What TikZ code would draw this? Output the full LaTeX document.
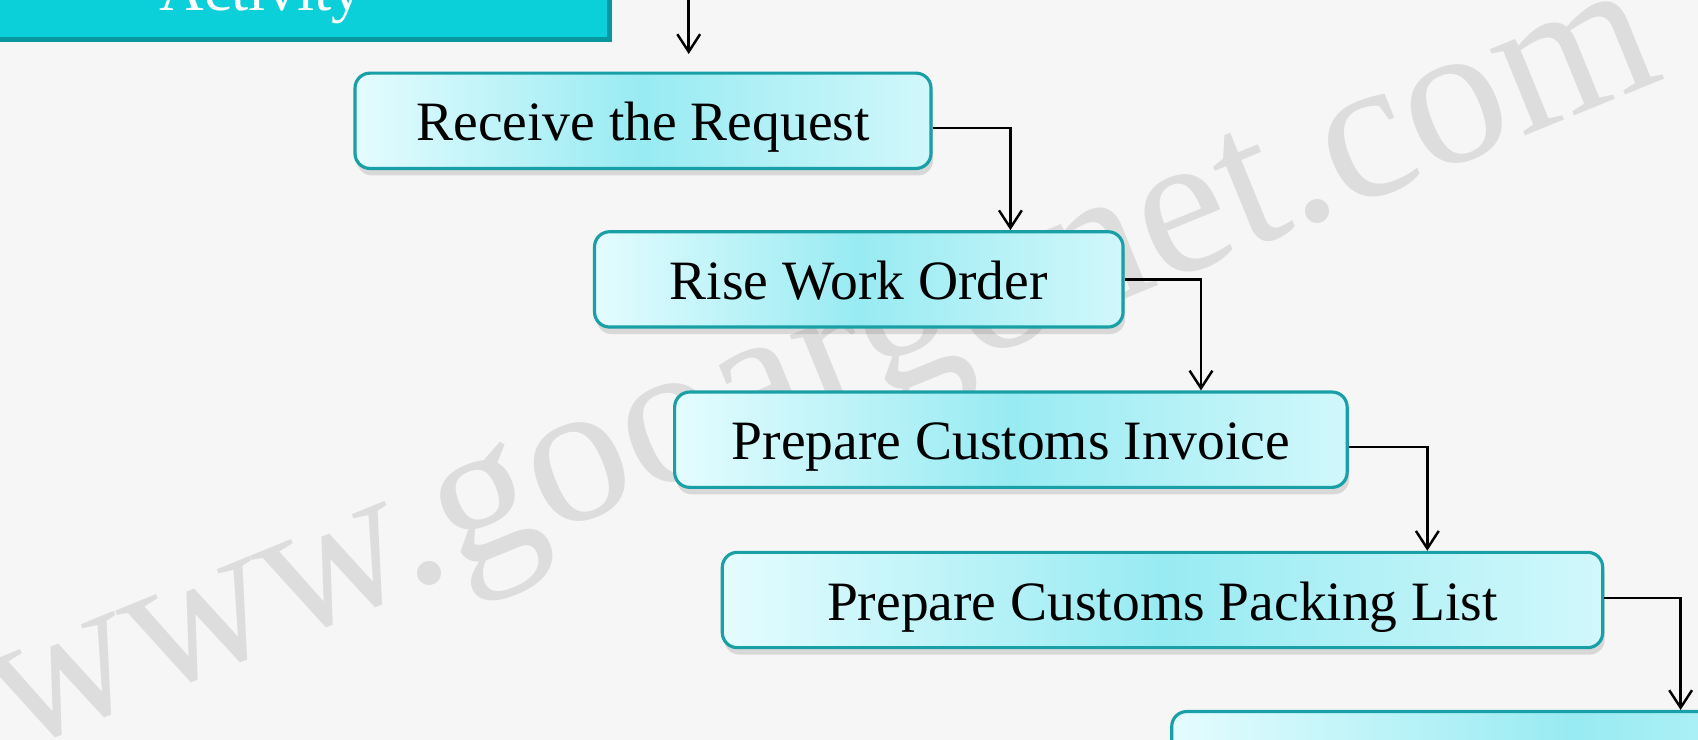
\documentclass[tikz,border=0pt]{standalone}
\usepackage{fontspec}
\setmainfont{Liberation Serif}
\usepackage{tikz}
\usetikzlibrary{arrows.meta}
\usetikzlibrary{shadows}

\definecolor{boxedge}{HTML}{18A0A6}
\definecolor{boxmid}{HTML}{98EBF2}
\definecolor{boxside}{HTML}{E4FCFE}
\definecolor{titlecyan}{HTML}{0BCFD9}
\definecolor{titledark}{HTML}{07979D}
\definecolor{bggray}{HTML}{F6F6F6}
\definecolor{markgray}{HTML}{DDDDDD}

\begin{document}
\begin{tikzpicture}[
  procbox/.style={draw=boxedge, line width=0.9pt, rounded corners=0.15cm,
    left color=boxside, right color=boxside!75!boxmid, middle color=boxmid,
    drop shadow={shadow xshift=0.02cm, shadow yshift=-0.07cm, opacity=0.25},
    minimum height=0.953cm, inner sep=0pt, text height=11.4pt, text depth=0pt,
    font=\fontsize{15.8}{18}\selectfont},
  flow/.style={line width=0.7pt, -{Straight Barb[length=5pt,width=6.5pt]}}]
\useasboundingbox (0,0) rectangle (16.98,-7.40);
\clip (0,0) rectangle (16.98,-7.40);
\fill[bggray] (0,0) rectangle (16.98,-7.40);
% watermark
\node[markgray, rotate=22.2, anchor=base west, inner sep=0pt,
  font=\fontsize{57.7}{60}\selectfont] (mark) at (0.14,-7.53) {www.gooargonet.com};
% title bar
\fill[titledark] (-0.1,0.5) rectangle (6.12,-0.42);
\fill[titlecyan] (-0.1,0.5) rectangle (6.07,-0.37);
\node[white, anchor=base, inner sep=0pt,
  font=\fontsize{17.6}{20}\selectfont] (title) at (2.61,-0.11) {Activity};

\node[procbox, minimum width=5.76cm] (recv) at (6.43,-1.208) {Receive the Request};
\node[procbox, minimum width=5.285cm] (rise) at (8.588,-2.794) {Rise Work Order};
\node[procbox, minimum width=6.725cm] (inv) at (10.109,-4.397) {Prepare Customs Invoice};
\node[procbox, minimum width=8.804cm] (pack) at (11.625,-6.0) {Prepare Customs Packing List};
\node[procbox, minimum width=8cm] (next) at (15.717,-7.592) {};

\coordinate (top) at (6.887,0.1);
\coordinate (topend) at (6.887,-0.54);
\coordinate (k1) at (10.104,0);
\coordinate (k2) at (12.01,0);
\coordinate (k3) at (14.273,0);
\coordinate (k4) at (16.806,0);

\draw[flow] (top) -- (topend);
\draw[flow] ([yshift=-0.07cm]recv.east) -| (k1 |- rise.north);
\draw[flow] (rise.east) -| (k2 |- inv.north);
\draw[flow] ([yshift=-0.075cm]inv.east) -| (k3 |- pack.north);
\draw[flow] ([yshift=0.02cm]pack.east) -| (k4 |- next.north);
\end{tikzpicture}
\end{document}
